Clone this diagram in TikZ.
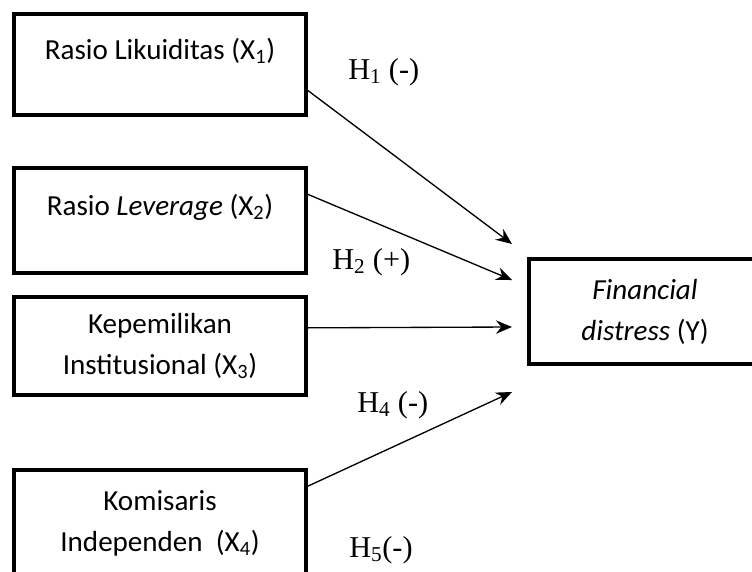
\documentclass[tikz,border=0pt]{standalone}
\usepackage{fontspec}
\setmainfont{Carlito}
\newfontfamily\hypfont{Liberation Serif}
\usetikzlibrary{arrows.meta}

\begin{document}
\begin{tikzpicture}[x=0.75pt,y=-0.75pt,>={Stealth[length=12pt,width=10pt,inset=4pt]},
    varbox/.style={draw, line width=3pt, minimum width=219pt, align=center, inner sep=0pt,
        font=\fontsize{21.8pt}{30.75pt}\selectfont},
    link/.style={->, line width=1pt},
    hyp/.style={anchor=base west, inner sep=0pt, font=\hypfont\fontsize{22.7pt}{27pt}\selectfont}]

    % --- Canvas ---
    \useasboundingbox (0,0) rectangle (752,571);
    \clip (0,0) rectangle (752,571);

    % --- Independent variables ---
    \node[varbox, minimum height=75.75pt, text depth=23pt] (likuid) at (160,64.5)
        {Rasio Likuiditas (X\textsubscript{1})};
    \node[varbox, minimum height=78.75pt, text depth=23pt] (lever) at (160,220.5)
        {Rasio \textit{Leverage} (X\textsubscript{2})};
    \node[varbox, minimum height=73.5pt] (inst) at (160,346)
        {Kepemilikan\\Institusional (X\textsubscript{3})};
    \node[varbox, minimum height=79.5pt] (komis) at (160,523)
        {Komisaris\\Independen~ (X\textsubscript{4})};

    % --- Dependent variable ---
    \node[varbox, minimum width=174pt, minimum height=78.75pt] (fd) at (645,311.5)
        {\textit{Financial}\\\textit{distress} (Y)};

    % --- Arrow ends ---
    \coordinate (t1) at (512,244);
    \coordinate (t2) at (512,280);
    \coordinate (t3) at (512,327);
    \coordinate (t4) at (512,392);

    % --- Paths ---
    \draw[link] (likuid.-10) -- (t1);
    \draw[link] (lever.10) -- (t2);
    \draw[link] (inst.7) -- (t3);
    \draw[link] (komis.14) -- (t4);

    % --- Hypotheses ---
    \node[hyp] (h1) at (348,79) {H\textsubscript{1} (-)};
    \node[hyp] (h2) at (332,269) {H\textsubscript{2} (+)};
    \node[hyp] (h4) at (357,412) {H\textsubscript{4} (-)};
    \node[hyp] (h5) at (349,557) {H\textsubscript{5}(-)};

\end{tikzpicture}
\end{document}
